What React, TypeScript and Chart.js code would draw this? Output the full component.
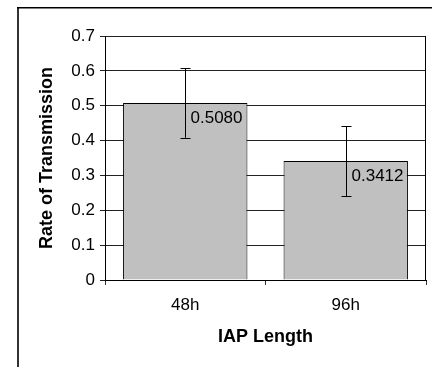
import React, { useEffect, useRef } from "react";
import { Chart, registerables } from "chart.js";

Chart.register(...registerables);

const categories = ["48h", "96h"];
const rates = [0.508, 0.3412];
const errors = [0.1, 0.1];
const yTicks = [0, 0.1, 0.2, 0.3, 0.4, 0.5, 0.6, 0.7];

const FONT = "'Liberation Sans', Arial, sans-serif";

const extrasPlugin = {
  id: "extras",
  beforeDraw(chart: any) {
    const ctx = chart.ctx;
    ctx.save();
    ctx.fillStyle = "#ffffff";
    ctx.fillRect(0, 0, chart.width, chart.height);
    ctx.fillStyle = "#333333";
    ctx.fillRect(17, 7, 2, chart.height - 7);
    ctx.fillStyle = "#000000";
    ctx.fillRect(17, 7, chart.width - 17, 1.5);
    ctx.restore();
  },
  afterDatasetsDraw(chart: any) {
    const ctx = chart.ctx;
    const x = chart.scales.x;
    const y = chart.scales.y;
    const area = chart.chartArea;
    ctx.save();
    ctx.strokeStyle = "#000";
    ctx.lineWidth = 1;
    ctx.beginPath();
    ctx.moveTo(Math.round(area.right) - 0.5, area.top);
    ctx.lineTo(Math.round(area.right) - 0.5, area.bottom);
    ctx.stroke();
    rates.forEach((v, i) => {
      const cx = Math.round(x.getPixelForValue(i)) + 0.5;
      const top = y.getPixelForValue(v + errors[i]);
      const bot = y.getPixelForValue(v - errors[i]);
      ctx.beginPath();
      ctx.moveTo(cx, top);
      ctx.lineTo(cx, bot);
      ctx.moveTo(cx - 5, Math.round(top) + 0.5);
      ctx.lineTo(cx + 5, Math.round(top) + 0.5);
      ctx.moveTo(cx - 5, Math.round(bot) + 0.5);
      ctx.lineTo(cx + 5, Math.round(bot) + 0.5);
      ctx.stroke();
      ctx.fillStyle = "#000";
      ctx.font = `17px ${FONT}`;
      ctx.textAlign = "left";
      ctx.textBaseline = "middle";
      ctx.fillText(v.toFixed(4), cx + 5, y.getPixelForValue(v) + 15);
    });
    ctx.restore();
  },
};

export default function App() {
  const ref = useRef<HTMLCanvasElement>(null);
  useEffect(() => {
    document.body.style.margin = "0";
    const chart = new Chart(ref.current!, {
      type: "bar",
      data: {
        labels: categories,
        datasets: [
          {
            data: rates,
            backgroundColor: "#C0C0C0",
            borderColor: "#000",
            borderWidth: 1,
            barPercentage: 0.775,
            categoryPercentage: 1,
          },
        ],
      },
      options: {
        animation: false,
        responsive: false,
        devicePixelRatio: 1,
        layout: { padding: { top: 36, right: 6, left: 0, bottom: 0 } },
        plugins: { legend: { display: false }, tooltip: { enabled: false } },
        scales: {
          x: {
            afterFit: (s: any) => {
              s.height = 87;
            },
            grid: {
              offset: true,
              drawOnChartArea: false,
              drawTicks: true,
              tickLength: 5,
              color: "#333",
            },
            border: { display: true, color: "#000" },
            ticks: { color: "#000", font: { family: FONT, size: 17 }, padding: 10 },
            title: {
              display: true,
              text: "IAP Length",
              color: "#000",
              font: { family: FONT, size: 18, weight: "bold" },
              padding: { top: 0, bottom: 19 },
            },
          },
          y: {
            min: 0,
            max: 0.7,
            afterFit: (s: any) => {
              s.width = 105;
            },
            afterBuildTicks: (s: any) => {
              s.ticks = yTicks.map((v) => ({ value: v }));
            },
            grid: { color: "#222", tickLength: 5, drawTicks: true },
            border: { display: true, color: "#000" },
            ticks: {
              color: "#000",
              font: { family: FONT, size: 17 },
              padding: 5,
              callback: (v: any) => String(Number(v)),
            },
            title: {
              display: true,
              text: "Rate of Transmission",
              color: "#000",
              font: { family: FONT, size: 18, weight: "bold" },
              padding: { top: 36, bottom: 0 },
            },
          },
        },
      },
      plugins: [extrasPlugin],
    });
    return () => chart.destroy();
  }, []);
  return <canvas ref={ref} width={432} height={367} style={{ display: "block" }} />;
}
